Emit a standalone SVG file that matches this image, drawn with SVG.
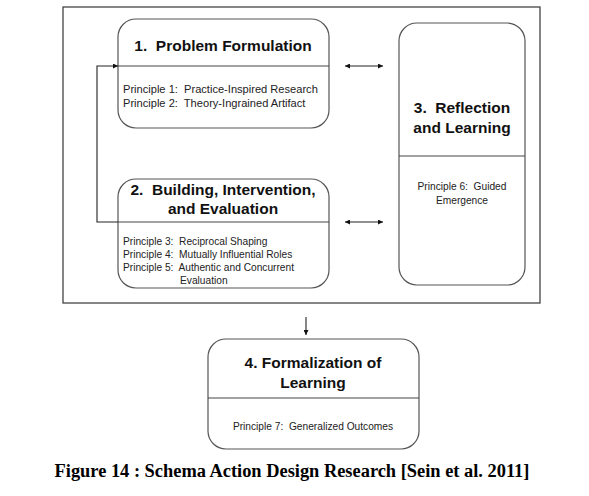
<svg xmlns="http://www.w3.org/2000/svg" width="589" height="496" viewBox="0 0 589 496" xml:space="preserve">
<defs>
<marker id="ah" viewBox="0 0 10 10" refX="10" refY="5" markerWidth="8" markerHeight="5" orient="auto-start-reverse" markerUnits="userSpaceOnUse">
<path d="M0,0 L10,5 L0,10 z" fill="#111"/>
</marker>
<style>
text{white-space:pre}
.box{fill:none;stroke:#555;stroke-width:1.2}
.div{stroke:#444;stroke-width:1.2}
.t{font-family:"Liberation Sans",Arial,sans-serif;font-weight:bold;font-size:15.5px;fill:#111;text-anchor:middle}
.p{font-family:"Liberation Sans",Arial,sans-serif;font-size:11.1px;fill:#222}
.ps{font-family:"Liberation Sans",Arial,sans-serif;font-size:10.2px;fill:#222}
.c{stroke:#222;stroke-width:1.1;fill:none}
</style>
</defs>
<rect width="589" height="496" fill="#fff"/>
<rect x="63" y="7" width="477" height="296" fill="none" stroke="#444" stroke-width="1.3"/>
<g id="node1">
<rect class="box" x="118" y="19" width="211" height="109" rx="18"/>
<line class="div" x1="118" y1="66" x2="329" y2="66"/>
<text class="t" x="223" y="51">1.  Problem Formulation</text>
<text class="p" x="123" y="93">Principle 1:  Practice-Inspired Research</text>
<text class="p" x="123" y="107">Principle 2:  Theory-Ingrained Artifact</text>
</g>
<g id="node2">
<rect class="box" x="118" y="179" width="211" height="109" rx="18"/>
<line class="div" x1="118" y1="222" x2="329" y2="222"/>
<text class="t" x="223" y="195">2.  Building, Intervention,</text>
<text class="t" x="223" y="214">and Evaluation</text>
<text class="ps" x="123" y="245">Principle 3:  Reciprocal Shaping</text>
<text class="ps" x="123" y="258">Principle 4:  Mutually Influential Roles</text>
<text class="ps" x="123" y="271">Principle 5:  Authentic and Concurrent</text>
<text class="ps" x="180" y="284">Evaluation</text>
</g>
<g id="node3">
<rect class="box" x="399" y="23" width="126" height="262" rx="18"/>
<line class="div" x1="399" y1="156" x2="525" y2="156"/>
<text class="t" x="462" y="113">3.  Reflection</text>
<text class="t" x="462" y="133">and Learning</text>
<text class="ps" x="462" y="190" text-anchor="middle">Principle 6:  Guided</text>
<text class="ps" x="462" y="204" text-anchor="middle">Emergence</text>
</g>
<g id="node4">
<rect class="box" x="208" y="339" width="211" height="110" rx="18"/>
<line class="div" x1="208" y1="398" x2="419" y2="398"/>
<text class="t" x="313" y="368">4. Formalization of</text>
<text class="t" x="313" y="388">Learning</text>
<text class="ps" x="313" y="430" text-anchor="middle">Principle 7:  Generalized Outcomes</text>
</g>
<g id="connectors">
<polyline class="c" points="118,222 97,222 97,66 118,66" marker-end="url(#ah)"/>
<line class="c" x1="345" y1="66" x2="383" y2="66" marker-start="url(#ah)" marker-end="url(#ah)"/>
<line class="c" x1="345" y1="222" x2="383" y2="222" marker-start="url(#ah)" marker-end="url(#ah)"/>
<line class="c" x1="306" y1="317" x2="306" y2="335" marker-end="url(#ah)"/>
</g>
<text x="292" y="477" text-anchor="middle" font-family="'Liberation Serif','Times New Roman',serif" font-weight="bold" font-size="18.4" fill="#000">Figure 14 : Schema Action Design Research [Sein et al. 2011]</text>
</svg>
